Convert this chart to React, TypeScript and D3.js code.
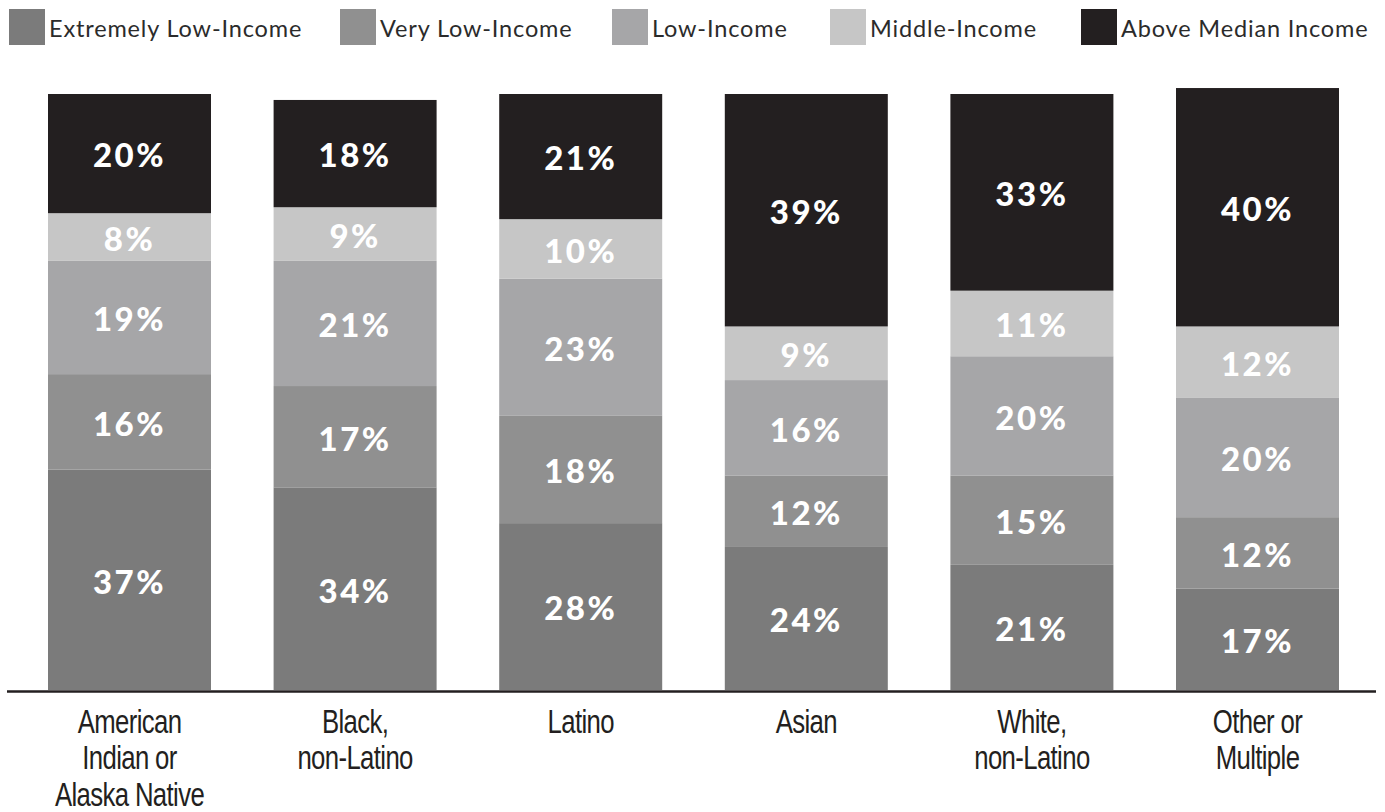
import React from "react";
import * as d3 from "d3";

const categories: string[] = [
  "American Indian or Alaska Native",
  "Black, non-Latino",
  "Latino",
  "Asian",
  "White, non-Latino",
  "Other or Multiple",
];
const categoryLines: string[][] = [
  ["American", "Indian or", "Alaska Native"],
  ["Black,", "non-Latino"],
  ["Latino"],
  ["Asian"],
  ["White,", "non-Latino"],
  ["Other or", "Multiple"],
];

const seriesNames: string[] = [
  "Extremely Low-Income",
  "Very Low-Income",
  "Low-Income",
  "Middle-Income",
  "Above Median Income",
];
const extremelyLow: number[] = [37, 34, 28, 24, 21, 17];
const veryLow: number[] = [16, 17, 18, 12, 15, 12];
const low: number[] = [19, 21, 23, 16, 20, 20];
const middle: number[] = [8, 9, 10, 9, 11, 12];
const aboveMedian: number[] = [20, 18, 21, 39, 33, 40];

const seriesColors: string[] = ["#7b7b7b", "#909090", "#a6a6a8", "#c6c6c6", "#231f20"];
const legendX: number[] = [9, 340, 612, 830, 1081];

const W = 1385;
const H = 812;

export default function App() {
  const seriesValues = [extremelyLow, veryLow, low, middle, aboveMedian];
  const rows = categories.map((c, i) => {
    const r: any = { cat: c };
    seriesNames.forEach((s, j) => (r[s] = seriesValues[j][i]));
    return r;
  });
  const stack = d3.stack<any>().keys(seriesNames)(rows);

  const x = d3
    .scaleBand<string>()
    .domain(categories)
    .range([16.7, 1370.3])
    .paddingInner(0.2775)
    .paddingOuter(0.13875);
  const y = d3.scaleLinear().domain([0, 100]).range([690, 94]);

  return (
    <svg
      width={W}
      height={H}
      viewBox={`0 0 ${W} ${H}`}
      style={{ position: "absolute", left: 0, top: 0, background: "#fff" }}
    >
      {/* legend */}
      {seriesNames.map((s, j) => (
        <g key={s}>
          <rect x={legendX[j]} y={9} width={36} height={36} fill={seriesColors[j]} />
          <text
            x={legendX[j] + 40}
            y={37}
            fontFamily="Lato, 'Noto Sans', sans-serif"
            fontSize={23.5}
            fill="#2b2b2b"
            letterSpacing={0.85}
          >
            {s}
          </text>
        </g>
      ))}

      {/* bars */}
      {stack.map((layer, j) => (
        <g key={layer.key}>
          {layer.map((d, i) => {
            const x0 = x(categories[i])!;
            const yTop = y(d[1]);
            const yBot = y(d[0]);
            return (
              <g key={i}>
                <rect
                  x={x0}
                  y={yTop}
                  width={x.bandwidth()}
                  height={yBot - yTop}
                  fill={seriesColors[j]}
                />
                <text
                  x={x0 + x.bandwidth() / 2}
                  y={(yTop + yBot) / 2}
                  dy="0.42em"
                  textAnchor="middle"
                  fontFamily="Lato, 'Noto Sans', sans-serif"
                  fontWeight={900}
                  fontSize={33}
                  letterSpacing={2.5}
                  fill="#ffffff"
                >
                  {d[1] - d[0]}%
                </text>
              </g>
            );
          })}
        </g>
      ))}

      {/* axis line */}
      <line x1={7} x2={1376} y1={691.5} y2={691.5} stroke="#231f20" strokeWidth={2.5} />

      {/* category labels */}
      {categories.map((c, i) => (
        <g key={c} transform={`translate(${x(c)! + x.bandwidth() / 2},0) scale(0.78,1)`}>
          <text
            textAnchor="middle"
            fontFamily="'Liberation Sans', Arial, sans-serif"
            fontSize={33}
            letterSpacing={-0.8}
            fill="#231f20"
          >
            {categoryLines[i].map((line, k) => (
              <tspan key={k} x={0} y={733 + k * 36.5}>
                {line}
              </tspan>
            ))}
          </text>
        </g>
      ))}
    </svg>
  );
}
